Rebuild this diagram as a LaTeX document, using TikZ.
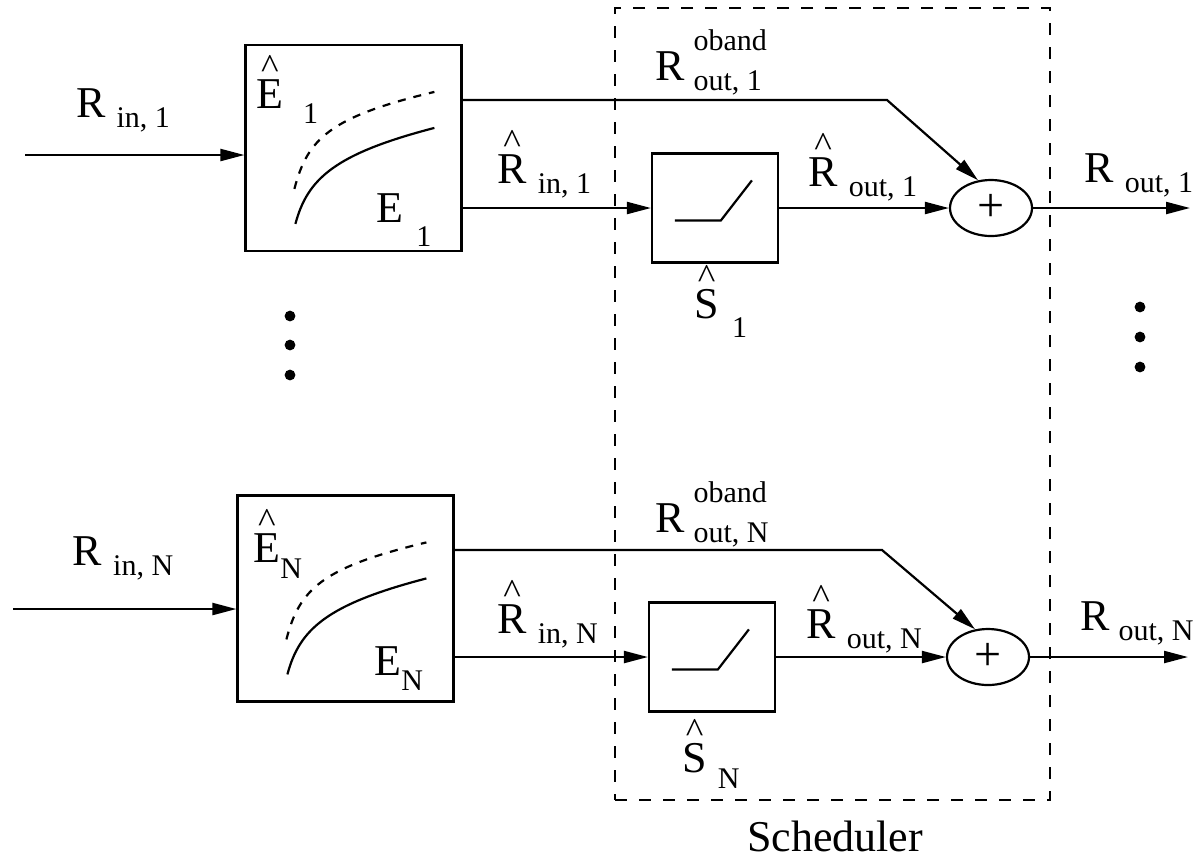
\documentclass[tikz,border=0pt]{standalone}
\usepackage{fontspec}
\setmainfont{Liberation Serif}
\usepackage{graphicx}
\usetikzlibrary{positioning,arrows.meta,shapes.geometric}

\newcommand{\hatted}[1]{\ooalign{#1\cr\hidewidth\raisebox{0.66em}{\scalebox{0.85}[0.8]{\char94}}\hidewidth\cr}}
\newcommand{\drop}[2]{\raisebox{#1}{\fontsize{15}{17}\selectfont #2}}
\newcommand{\obandsub}[1]{\raisebox{-5pt}{\fontsize{15}{17}\selectfont\rlap{\raisebox{20pt}{oband}}#1}}

\begin{document}
\begin{tikzpicture}[x=0.5pt,y=-0.5pt,
    lbl/.style={font=\fontsize{22}{26}\selectfont,inner sep=0pt},
    est/.style={draw,line width=1.1pt,minimum width=108pt,minimum height=103pt,inner sep=0pt},
    lim/.style={draw,line width=1.1pt,minimum width=63pt,minimum height=54.5pt,inner sep=0pt},
    adder/.style={draw,ellipse,line width=1.1pt,minimum width=41pt,minimum height=28pt,
                  inner sep=0pt,font=\fontsize{24}{28}\selectfont},
    arr/.style={-{Triangle[length=12pt,width=6pt]},line width=1.1pt},
    grp/.style={draw,dash pattern=on 6pt off 6pt,line width=0.9pt}]
  \useasboundingbox (0,0) rectangle (1203,859);

  % scheduler group
  \node[grp,minimum width=217.5pt,minimum height=396pt] (sch) at (832.5,404) {};
  \node[anchor=base,font=\fontsize{22}{26}\selectfont] (schlab) at (835,851) {Scheduler};

  % blocks
  \node[est] (E1) at (353.5,148) {};
  \node[est] (EN) at (345.5,598.5) {};
  \node[lim] (S1) at (715,208) {};
  \node[lim] (SN) at (712,657) {};
  \node[adder] (A1) at (991,208) {+};
  \node[adder] (AN) at (988,657) {+};

  \foreach \b in {E1,EN}{
    \begin{scope}[shift={(\b.north west)}]
      \draw[line width=1.1pt,dash pattern=on 4pt off 4pt] (50,145) .. controls (63,95) and (85,73) .. (190,48);
      \draw[line width=1.1pt] (51,180) .. controls (63,135) and (90,110) .. (190,84);
    \end{scope}}
  \foreach \b in {S1,SN}{
    \begin{scope}[shift={(\b.north west)}]
      \draw[line width=1.1pt] (24,68) -- (70,68) -- (101,28);
    \end{scope}}

  % free ends and bends
  \coordinate (in1) at (25,155);
  \coordinate (inN) at (13,609);
  \coordinate (k1) at (887,100);
  \coordinate (kN) at (882,550);
  \coordinate (out1) at (1190,208);
  \coordinate (outN) at (1188,657);

  % connectors
  \draw[arr] (in1) -- (in1 -| E1.west);
  \draw[arr] (inN) -- (inN -| EN.west);
  \draw[arr] (S1.west -| E1.east) -- (S1.west);
  \draw[arr] (SN.west -| EN.east) -- (SN.west);
  \draw[arr] (k1 -| E1.east) -- (k1) -- (A1.115);
  \draw[arr] (kN -| EN.east) -- (kN) -- (AN.115);
  \draw[arr] (S1) -- (A1);
  \draw[arr] (SN) -- (AN);
  \draw[arr] (A1) -- (out1);
  \draw[arr] (AN) -- (outN);

  % labels
  \node[lbl,anchor=base] (rin1) at (123,117) {R\hspace{0.25em}\drop{-5pt}{in, 1}};
  \node[lbl,anchor=base] (rinN) at (123,565) {R\hspace{0.25em}\drop{-5pt}{in, N}};
  \node[lbl,anchor=base west] (eh1) at (256,108) {\hatted{E}\hspace{0.45em}\drop{-7.5pt}{1}};
  \node[lbl,anchor=base west] (ehN) at (253,562) {\hatted{E}\drop{-8pt}{N}};
  \node[lbl,anchor=base west] (e1) at (376,222) {E\hspace{0.3em}\drop{-12pt}{1}};
  \node[lbl,anchor=base west] (eN) at (374,675) {E\drop{-7.5pt}{N}};
  \node[lbl,anchor=base west] (rob1) at (655,80) {R\hspace{0.2em}\obandsub{out, 1}};
  \node[lbl,anchor=base west] (robN) at (655,532) {R\hspace{0.2em}\obandsub{out, N}};
  \node[lbl,anchor=base west] (rhin1) at (497,183) {\hatted{R}\hspace{0.25em}\drop{-5pt}{in, 1}};
  \node[lbl,anchor=base west] (rhinN) at (497,633) {\hatted{R}\hspace{0.25em}\drop{-5pt}{in, N}};
  \node[lbl,anchor=base west] (rhout1) at (808,186) {\hatted{R}\hspace{0.25em}\drop{-5pt}{out, 1}};
  \node[lbl,anchor=base west] (rhoutN) at (806,638) {\hatted{R}\hspace{0.25em}\drop{-5pt}{out, N}};
  \node[lbl,anchor=base west] (rout1) at (1084,182) {R\hspace{0.25em}\drop{-5pt}{out, 1}};
  \node[lbl,anchor=base west] (routN) at (1080,630) {R\hspace{0.2em}\drop{-5pt}{out, N}};
  \node[lbl,anchor=base west] (sh1) at (694,318) {\hatted{S}\hspace{0.3em}\drop{-9.5pt}{1}};
  \node[lbl,anchor=base west] (shN) at (682,772) {\hatted{S}\hspace{0.25em}\drop{-8pt}{N}};

  % dots
  \foreach \y in {316,345,375} \fill (290,\y) circle (2.7pt);
  \foreach \y in {307,337,367} \fill (1140,\y) circle (2.7pt);
\end{tikzpicture}
\end{document}
